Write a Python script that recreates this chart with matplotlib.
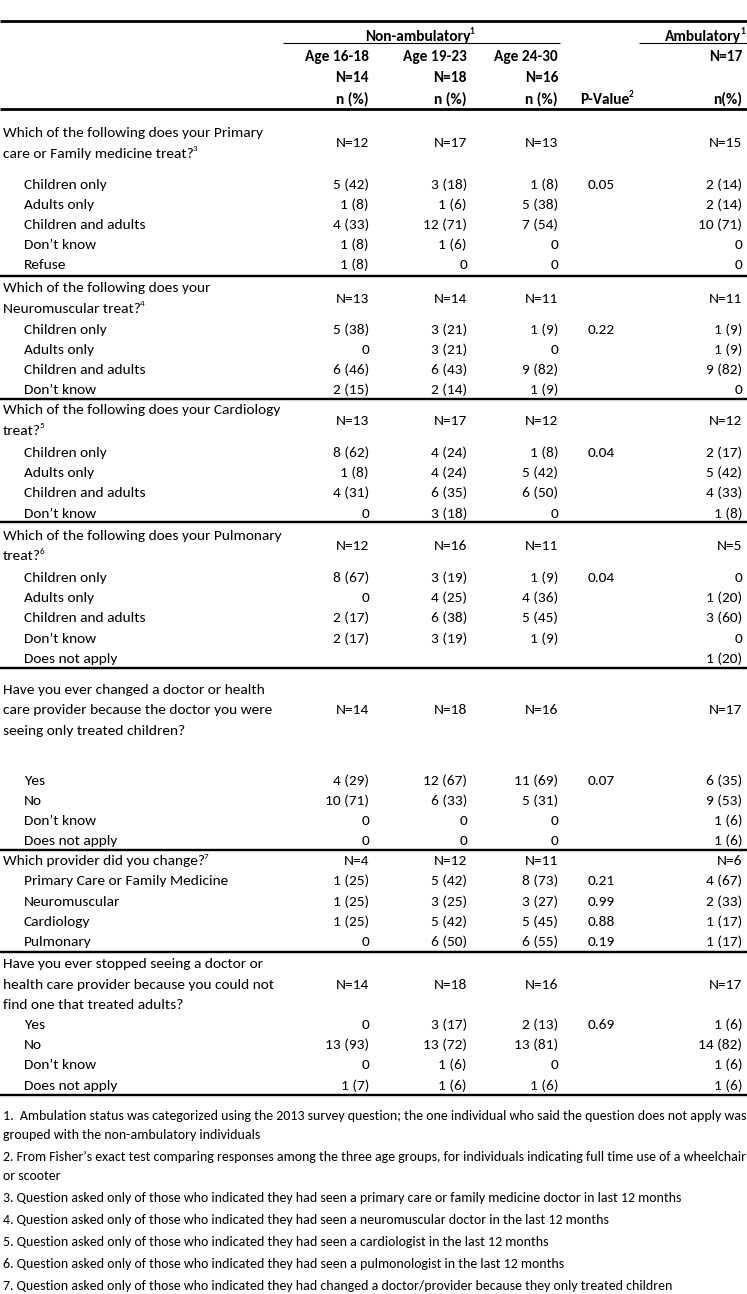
import matplotlib
matplotlib.use("Agg")
import matplotlib.pyplot as plt
from matplotlib import font_manager as fm

# ---------------- data ----------------
group_labels = ["Age 16-18", "Age 19-23", "Age 24-30"]
group_n = ["N=14", "N=18", "N=16"]
amb_n = "N=17"

# Section 1: primary care
s1_q = ["Which of the following does your Primary", "care or Family medicine treat?"]
s1_sup = "3"
s1_n = ["N=12", "N=17", "N=13", "N=15"]
s1_rows = ["Children only", "Adults only", "Children and adults", "Don’t know", "Refuse"]
s1_a1 = ["5 (42)", "1 (8)", "4 (33)", "1 (8)", "1 (8)"]
s1_a2 = ["3 (18)", "1 (6)", "12 (71)", "1 (6)", "0"]
s1_a3 = ["1 (8)", "5 (38)", "7 (54)", "0", "0"]
s1_p = ["0.05", "", "", "", ""]
s1_amb = ["2 (14)", "2 (14)", "10 (71)", "0", "0"]

# Section 2: neuromuscular
s2_q = ["Which of the following does your", "Neuromuscular treat?"]
s2_sup = "4"
s2_n = ["N=13", "N=14", "N=11", "N=11"]
s2_rows = ["Children only", "Adults only", "Children and adults", "Don’t know"]
s2_a1 = ["5 (38)", "0", "6 (46)", "2 (15)"]
s2_a2 = ["3 (21)", "3 (21)", "6 (43)", "2 (14)"]
s2_a3 = ["1 (9)", "0", "9 (82)", "1 (9)"]
s2_p = ["0.22", "", "", ""]
s2_amb = ["1 (9)", "1 (9)", "9 (82)", "0"]

# Section 3: cardiology
s3_q = ["Which of the following does your Cardiology", "treat?"]
s3_sup = "5"
s3_n = ["N=13", "N=17", "N=12", "N=12"]
s3_rows = ["Children only", "Adults only", "Children and adults", "Don’t know"]
s3_a1 = ["8 (62)", "1 (8)", "4 (31)", "0"]
s3_a2 = ["4 (24)", "4 (24)", "6 (35)", "3 (18)"]
s3_a3 = ["1 (8)", "5 (42)", "6 (50)", "0"]
s3_p = ["0.04", "", "", ""]
s3_amb = ["2 (17)", "5 (42)", "4 (33)", "1 (8)"]

# Section 4: pulmonary
s4_q = ["Which of the following does your Pulmonary", "treat?"]
s4_sup = "6"
s4_n = ["N=12", "N=16", "N=11", "N=5"]
s4_rows = ["Children only", "Adults only", "Children and adults", "Don’t know", "Does not apply"]
s4_a1 = ["8 (67)", "0", "2 (17)", "2 (17)", ""]
s4_a2 = ["3 (19)", "4 (25)", "6 (38)", "3 (19)", ""]
s4_a3 = ["1 (9)", "4 (36)", "5 (45)", "1 (9)", ""]
s4_p = ["0.04", "", "", "", ""]
s4_amb = ["0", "1 (20)", "3 (60)", "0", "1 (20)"]

# Section 5: changed provider
s5_q = ["Have you ever changed a doctor or health",
        "care provider because the doctor you were",
        "seeing only treated children?"]
s5_sup = None
s5_n = ["N=14", "N=18", "N=16", "N=17"]
s5_rows = ["Yes", "No", "Don’t know", "Does not apply"]
s5_a1 = ["4 (29)", "10 (71)", "0", "0"]
s5_a2 = ["12 (67)", "6 (33)", "0", "0"]
s5_a3 = ["11 (69)", "5 (31)", "0", "0"]
s5_p = ["0.07", "", "", ""]
s5_amb = ["6 (35)", "9 (53)", "1 (6)", "1 (6)"]

# Section 6: which provider
s6_q = ["Which provider did you change?"]
s6_sup = "7"
s6_n = ["N=4", "N=12", "N=11", "N=6"]
s6_rows = ["Primary Care or Family Medicine", "Neuromuscular", "Cardiology", "Pulmonary"]
s6_a1 = ["1 (25)", "1 (25)", "1 (25)", "0"]
s6_a2 = ["5 (42)", "3 (25)", "5 (42)", "6 (50)"]
s6_a3 = ["8 (73)", "3 (27)", "5 (45)", "6 (55)"]
s6_p = ["0.21", "0.99", "0.88", "0.19"]
s6_amb = ["4 (67)", "2 (33)", "1 (17)", "1 (17)"]

# Section 7: stopped seeing
s7_q = ["Have you ever stopped seeing a doctor or",
        "health care provider because you could not",
        "find one that treated adults?"]
s7_sup = None
s7_n = ["N=14", "N=18", "N=16", "N=17"]
s7_rows = ["Yes", "No", "Don’t know", "Does not apply"]
s7_a1 = ["0", "13 (93)", "0", "1 (7)"]
s7_a2 = ["3 (17)", "13 (72)", "1 (6)", "1 (6)"]
s7_a3 = ["2 (13)", "13 (81)", "0", "1 (6)"]
s7_p = ["0.69", "", "", ""]
s7_amb = ["1 (6)", "14 (82)", "1 (6)", "1 (6)"]

footnotes = [
    ["1.  Ambulation status was categorized using the 2013 survey question; the one individual who said the question does not apply was",
     "grouped with the non-ambulatory individuals"],
    ["2. From Fisher’s exact test comparing responses among the three age groups, for individuals indicating full time use of a wheelchair",
     "or scooter"],
    ["3. Question asked only of those who indicated they had seen a primary care or family medicine doctor in last 12 months"],
    ["4. Question asked only of those who indicated they had seen a neuromuscular doctor in the last 12 months"],
    ["5. Question asked only of those who indicated they had seen a cardiologist in the last 12 months"],
    ["6. Question asked only of those who indicated they had seen a pulmonologist in the last 12 months"],
    ["7. Question asked only of those who indicated they had changed a doctor/provider because they only treated children"],
]

sections = [
    (s1_q, s1_sup, s1_n, s1_rows, s1_a1, s1_a2, s1_a3, s1_p, s1_amb),
    (s2_q, s2_sup, s2_n, s2_rows, s2_a1, s2_a2, s2_a3, s2_p, s2_amb),
    (s3_q, s3_sup, s3_n, s3_rows, s3_a1, s3_a2, s3_a3, s3_p, s3_amb),
    (s4_q, s4_sup, s4_n, s4_rows, s4_a1, s4_a2, s4_a3, s4_p, s4_amb),
    (s5_q, s5_sup, s5_n, s5_rows, s5_a1, s5_a2, s5_a3, s5_p, s5_amb),
    (s6_q, s6_sup, s6_n, s6_rows, s6_a1, s6_a2, s6_a3, s6_p, s6_amb),
    (s7_q, s7_sup, s7_n, s7_rows, s7_a1, s7_a2, s7_a3, s7_p, s7_amb),
]

# ---------------- layout ----------------
W, H = 747, 1294
def pick(cands):
    for c in cands:
        try:
            fm.findfont(fm.FontProperties(family=c), fallback_to_default=False)
            return c
        except Exception:
            pass
    return "DejaVu Sans"
FONT = pick(["Carlito", "Calibri", "Lato", "Open Sans"])

fig = plt.figure(figsize=(W / 100, H / 100), dpi=100)
ax = fig.add_axes([0, 0, 1, 1])
ax.set_xlim(0, W)
ax.set_ylim(H, 0)
ax.axis("off")
renderer = fig.canvas.get_renderer()

def text_width(s, size, bold=False):
    t = ax.text(0, 0, s, fontsize=size, family=FONT,
                fontweight="bold" if bold else "normal")
    w = t.get_window_extent(renderer).width
    t.remove()
    return w

FS = 10 * 259 / text_width(s1_q[0], 10)
FS_NOTE = 10 * 742 / text_width(footnotes[1][0], 10)

def put(x, yc, s, ha="left", sup=None, bold=False, size=None):
    size = size or FS
    em = size * 100 / 72
    yb = yc + 0.36 * em
    fw = "bold" if bold else "normal"
    ssize = size * 0.6
    sw = text_width(sup, ssize, bold) - 1 if sup else 0
    if ha == "right":
        xm = x - sw
    elif ha == "center":
        xm = x - sw / 2
    else:
        xm = x
    ax.text(xm, yb, s, ha=ha, va="baseline", fontsize=size, family=FONT,
            fontweight=fw, color="black")
    if sup:
        mw = text_width(s, size, bold)
        if ha == "right":
            xs = xm - 1
        elif ha == "center":
            xs = xm + mw / 2 - 1
        else:
            xs = xm + mw - 1
        ax.text(xs, yb - 0.42 * em, sup, ha="left", va="baseline",
                fontsize=ssize, family=FONT, fontweight=fw, color="black")

def rule(y, lw_px=2.0, x0=0, x1=W):
    ax.plot([x0, x1], [y, y], color="black", lw=lw_px * 0.72,
            solid_capstyle="butt")

col_right = [369, 467, 558]
amb_right = 742
p_left = 588
q_x, sub_x = 3, 24

# header
rule(20.5, 2.8)
put(420, 35, "Non-ambulatory", ha="center", sup="1", bold=True)
rule(43, 1.1, 283, 560)
put(745, 35, "Ambulatory", ha="right", sup="1", bold=True)
rule(43, 1.1, 639, W)
for xr, g, n in zip(col_right, group_labels, group_n):
    put(xr, 55, g, ha="right", bold=True)
    put(xr, 76, n, ha="right", bold=True)
    put(xr, 98, "n (%)", ha="right", bold=True)
put(amb_right, 55, amb_n, ha="right", bold=True)
put(580, 98, "P-Value", sup="2", bold=True)
put(amb_right, 98, "n(%)", ha="right", bold=True)
rule(108.5, 2.8)

# body
step = 20.2
pre = [23, 11, 10, 12, 20, 10, 11]
post = [31, 21, 22, 22, 50, 20, 20]
after = [12, 10, 10, 11, 10, 11, 11]
y = 108.5
for i, (q, sup, ns, rows, a1, a2, a3, pv, amb) in enumerate(sections):
    y += pre[i]
    ys = []
    for j, line in enumerate(q):
        ys.append(y)
        put(q_x, y, line, sup=sup if j == len(q) - 1 else None)
        if j < len(q) - 1:
            y += step + 0.3
    ymid = sum(ys) / len(ys)
    for xr, n in zip(col_right, ns[:3]):
        put(xr, ymid, n, ha="right")
    put(amb_right, ymid, ns[3], ha="right")
    y += post[i]
    for k, r in enumerate(rows):
        put(sub_x, y, r)
        for xr, v in zip(col_right, (a1[k], a2[k], a3[k])):
            if v:
                put(xr, y, v, ha="right")
        if pv[k]:
            put(p_left, y, pv[k])
        if amb[k]:
            put(amb_right, y, amb[k], ha="right")
        if k < len(rows) - 1:
            y += step
    y += after[i]
    rule(y, 2.4)

# footnotes
y = 1115
for fn in footnotes:
    for j, line in enumerate(fn):
        put(q_x, y, line, size=FS_NOTE)
        y += 19
    y += 3

fig.savefig("out.png", dpi=100, facecolor="white")
